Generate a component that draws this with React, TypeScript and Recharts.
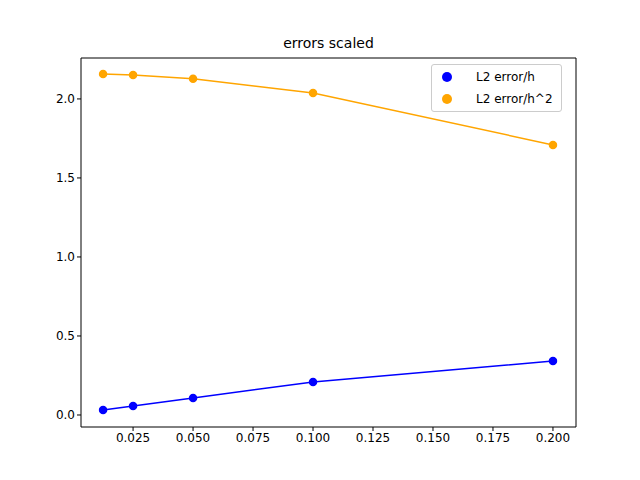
import { LineChart, Line, XAxis, YAxis } from 'recharts'

const hs = [0.0125, 0.025, 0.05, 0.1, 0.2]
const errH = [0.032, 0.057, 0.108, 0.209, 0.342]
const errH2 = [2.158, 2.152, 2.127, 2.038, 1.709]
const xTicks = [0.025, 0.05, 0.075, 0.1, 0.125, 0.15, 0.175, 0.2]
const yTicks = [0, 0.5, 1.0, 1.5, 2.0]
const legendItems = [
  { label: 'L2 error/h', color: 'blue' },
  { label: 'L2 error/h^2', color: 'orange' },
]

const data = hs.map((h, i) => ({ h, e1: errH[i], e2: errH2[i] }))
const font = 'DejaVu Sans'

function LegendBox() {
  return (
    <div style={{ position: 'absolute', top: 64, left: 431, border: '1px solid #ccc', borderRadius: 3, background: 'white', padding: '1px 8px 1px 10px', fontFamily: font, fontSize: 12 }}>
      {legendItems.map(it => (
        <div key={it.label} style={{ display: 'flex', alignItems: 'center', height: 22 }}>
          <span style={{ width: 10, height: 10, borderRadius: 5, background: it.color, marginRight: 24 }} />
          {it.label}
        </div>
      ))}
    </div>
  )
}

export default function App() {
  return (
    <div style={{ position: 'absolute', left: 0, top: 0, width: 640, height: 480, background: 'white' }}>
      <div style={{ position: 'absolute', top: 35, left: 81, width: 495, textAlign: 'center', fontFamily: font, fontSize: 14 }}>errors scaled</div>
      <LineChart width={640} height={480} data={data} margin={{ top: 58, right: 64, left: 0, bottom: 0 }}>
        <XAxis dataKey="h" type="number" domain={[0.0033, 0.2096]} ticks={xTicks} tickFormatter={v => v.toFixed(3)}
          height={53} tick={{ fontSize: 12, fill: '#000', fontFamily: font }} stroke="#000" tickSize={4} allowDataOverflow />
        <YAxis type="number" domain={[-0.076, 2.259]} ticks={yTicks} tickFormatter={v => v.toFixed(1)}
          width={81} tick={{ fontSize: 12, fill: '#000', fontFamily: font }} stroke="#000" tickSize={4} allowDataOverflow />
        <Line dataKey="e1" stroke="blue" strokeWidth={1.5} dot={{ r: 3.5, fill: 'blue', stroke: 'blue' }} isAnimationActive={false} />
        <Line dataKey="e2" stroke="orange" strokeWidth={1.5} dot={{ r: 3.5, fill: 'orange', stroke: 'orange' }} isAnimationActive={false} />
        <line x1={81} y1={58} x2={576} y2={58} stroke="#000" />
        <line x1={576} y1={58} x2={576} y2={427} stroke="#000" />
      </LineChart>
      <LegendBox />
    </div>
  )
}
